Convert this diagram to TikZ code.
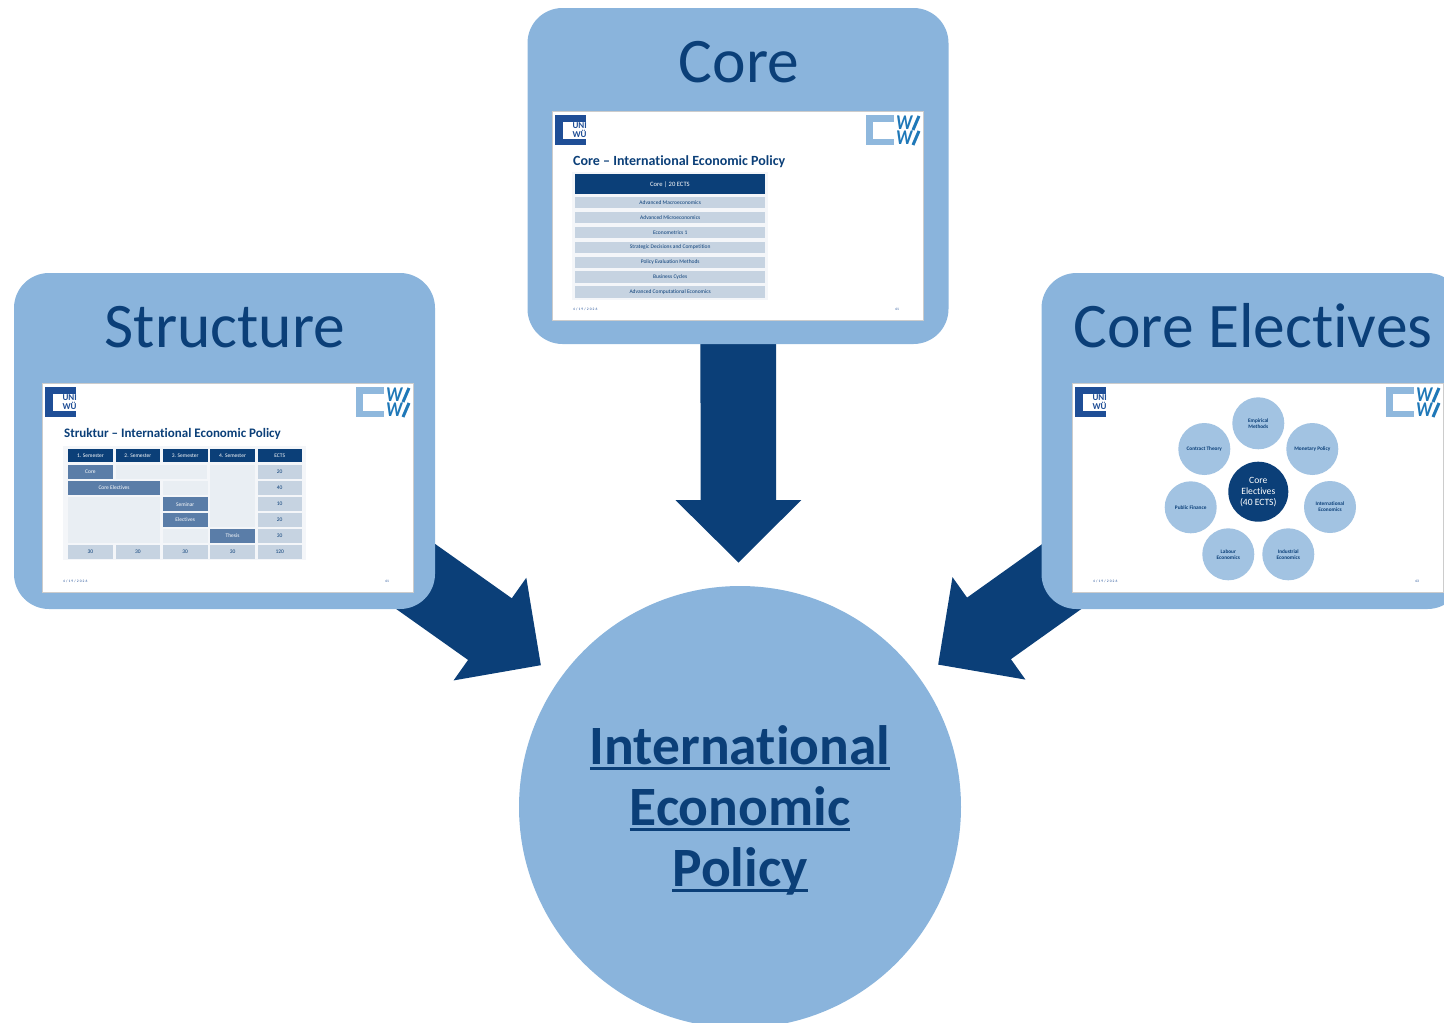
\documentclass[tikz,border=0pt]{standalone}
\usepackage{fontspec}
\setmainfont[Ligatures=NoCommon]{Carlito}
\newfontfamily\datefont[LetterSpace=30]{Carlito}
\usepackage{xcolor}
\usetikzlibrary{arrows.meta}
\usetikzlibrary{backgrounds}
\newsavebox{\policybox}
\newcommand{\policyline}[1]{\sbox{\policybox}{#1}\rlap{\rule[-5.5pt]{\wd\policybox}{3pt}}\usebox{\policybox}}
\definecolor{boxblue}{HTML}{8AB4DC}
\definecolor{darkblue}{HTML}{0B3F78}
\definecolor{unidark}{HTML}{1F4E96}
\definecolor{wwilight}{HTML}{8FB8DD}
\definecolor{wwidark}{HTML}{1F78B8}
\definecolor{midcell}{HTML}{5A7DA8}
\definecolor{greycell}{HTML}{C6D3E1}
\definecolor{lightcell}{HTML}{E9EEF3}
\definecolor{tablebg}{HTML}{F4F6F9}
\definecolor{bubbleblue}{HTML}{A2C3E2}
\tikzset{
  topicbox/.style={draw=none,fill=boxblue,rounded corners=35pt,inner sep=0pt,minimum width=421pt,minimum height=336pt},
  topictitle/.style={text=darkblue,inner sep=0pt,text height=41pt,text depth=0pt,font=\fontsize{63.5}{66}\selectfont},
  bigarrow/.style={darkblue,line width=75.6pt,-{Triangle[length=62.6pt,width=122pt]}},
  slidetitle/.style={anchor=west,text=darkblue,inner sep=0pt,font=\fontsize{13}{14}\selectfont\bfseries},
  cellbox/.style={anchor=north west,inner sep=0pt,font=\fontsize{5.5}{6}\selectfont},
  bubble/.style={circle,fill=bubbleblue,inner sep=0pt,minimum size=52pt,align=center,text=darkblue,font=\fontsize{5.3}{6.2}\selectfont\bfseries},
  wwiletter/.style={anchor=west,inner sep=0pt,text=wwidark,font=\fontsize{21}{21}\selectfont\bfseries\itshape},
  pics/slideframe/.style={code={
    \fill[white,draw=black!20,line width=.6pt] (0,0) rectangle (371,209);
    \fill[unidark] (3,4) rectangle (34,34);
    \fill[white] (10.5,10.5) rectangle (34,27.5);
    \begin{scope}
      \clip (10,4) rectangle (34,34);
      \node[anchor=west,align=left,inner sep=0pt,text=unidark,font=\fontsize{9}{9}\selectfont\bfseries] (-uni) at (20.3,19) {UNI\\WÜ};
    \end{scope}
    \fill[wwilight] (314,4) rectangle (342,34);
    \fill[white] (321,10.5) rectangle (342.5,27.5);
    \node[wwiletter] (-wa) at (344,12) {\scalebox{.85}[1]{W}};
    \node[wwiletter] (-wb) at (344,27) {\scalebox{.85}[1]{W}};
    \draw[wwidark,line width=3pt] (361,19) -- (367,5);
    \draw[wwidark,line width=3pt] (361,34) -- (367,20);
    \node[anchor=west,inner sep=0pt,text=unidark,font=\fontsize{3.6}{4}\datefont] (-date) at (21,198.5) {4/19/2026};
    \node[anchor=west,inner sep=0pt,text=unidark,font=\fontsize{3.6}{4}\selectfont] (-page) at (343,198.5) {#1};
  }}
}
\begin{document}
\begin{tikzpicture}[x=1pt,y=-1pt]
  \useasboundingbox (0,0) rectangle (1444,1023);
  \node[topicbox] (core) at (738,176) {};
  \node[topicbox] (structure) at (224.5,441) {};
  \node[topicbox] (electives) at (1252,441) {};
  \node[circle,fill=boxblue,inner sep=0pt,minimum size=442pt] (policy) at (740,807) {};
  \node[align=center,text=darkblue,inner sep=0pt,font=\fontsize{55.5}{61}\selectfont\bfseries] (policytext) at (740,810)
    {\policyline{International}\\\policyline{Economic}\\\policyline{Policy}};
  \node[topictitle] (coretitle) at (739,62) {Core};
  \node[topictitle] (structuretitle) at (225,327) {Structure};
  \node[topictitle] (electivestitle) at (1253,327) {Core Electives};
  \coordinate (coretip) at (738.5,562.7);
  \coordinate (structuretip) at (541,665.3);
  \coordinate (electivestip) at (938,664.7);
  \begin{scope}[on background layer]
    \draw[bigarrow] (core.center) -- (coretip);
    \draw[bigarrow] (structure.center) -- (structuretip);
    \draw[bigarrow] (electives.center) -- (electivestip);
  \end{scope}

  % core slide
  \pic (coreslide) at (552,111) {slideframe={41}};
  \node[slidetitle,font=\fontsize{14}{15}\selectfont\bfseries] (coreheading) at (573,162) {Core -- International Economic Policy};
  \fill[tablebg] (572,172) rectangle (768,300);
  \node[cellbox,fill=darkblue,text=white,minimum width=190.5pt,minimum height=20pt,font=\fontsize{6.6}{7}\selectfont] (corehead) at (574.5,174) {Core | 20 ECTS};
  \foreach \y/\txt [count=\i] in {196.5/Advanced Macroeconomics,211.5/Advanced Microeconomics,226.5/Econometrics 1,241.5/Strategic Decisions and Competition,256.5/Policy Evaluation Methods,271/Business Cycles,286/Advanced Computational Economics}
    \node[cellbox,fill=greycell,text=darkblue,minimum width=190pt,minimum height=11.5pt] (corerow\i) at (575,\y) {\txt};

  % structure slide
  \pic (structureslide) at (42,383) {slideframe={41}};
  \node[slidetitle] (structureheading) at (64,433.5) {Struktur -- International Economic Policy};
  \fill[tablebg] (63,446) rectangle (306,560);
  \foreach \x/\w/\txt [count=\i] in {67.7/45/1. Semester,115.3/44.7/2. Semester,162.7/44.6/3. Semester,209.7/45.3/4. Semester,257.3/44.4/ECTS}
    \node[cellbox,fill=darkblue,text=white,minimum width=\w pt,minimum height=13.7pt] (head\i) at (\x,448.3) {\txt};
  \foreach \x/\y/\w/\h [count=\i] in {115.3/464.3/91.9/14.4,162.7/480.7/44.6/13.6,67.7/497/92.3/45.7,162.7/528.7/44.6/14,209.7/464.3/45.3/62.4}
    \node[cellbox,fill=lightcell,minimum width=\w pt,minimum height=\h pt] (free\i) at (\x,\y) {};
  \foreach \x/\y/\w/\h/\txt [count=\i] in {67.7/464.3/45/14.4/Core,67.7/480.7/92.3/13.6/Core Electives,162.7/497/44.6/14/Seminar,162.7/512.7/44.6/14/Electives,209.7/528.7/45.3/14/Thesis}
    \node[cellbox,fill=midcell,text=white,minimum width=\w pt,minimum height=\h pt] (module\i) at (\x,\y) {\txt};
  \foreach \y/\h/\txt [count=\i] in {464.3/14.4/20,480.7/13.6/40,497/14/10,512.7/14/20,528.7/14/30,544.3/14/120}
    \node[cellbox,fill=greycell,text=darkblue,minimum width=44.4pt,minimum height=\h pt] (ects\i) at (257.3,\y) {\txt};
  \foreach \x/\w [count=\i] in {67.7/45,115.3/44.7,162.7/44.6,209.7/45.3}
    \node[cellbox,fill=greycell,text=darkblue,minimum width=\w pt,minimum height=14pt] (sum\i) at (\x,544.3) {30};

  % electives slide
  \pic (electivesslide) at (1072,383) {slideframe={43}};
  \node[circle,fill=darkblue,text=white,inner sep=0pt,minimum size=60pt,align=center,font=\fontsize{9.6}{11}\selectfont] (electivescentre) at (1258.3,491.7) {Core\\Electives\\(40 ECTS)};
  \foreach \x/\y/\txt [count=\i] in {1258.3/423.3/Empirical\\Methods,1312.3/449/Monetary Policy,1330/507/International\\Economics,1288.3/554.3/Industrial\\Economics,1228.3/554.3/Labour\\Economics,1190.7/507.3/Public Finance,1204.3/449/Contract Theory}
    \node[bubble] (bubble\i) at (\x,\y) {\txt};
\end{tikzpicture}
\end{document}
